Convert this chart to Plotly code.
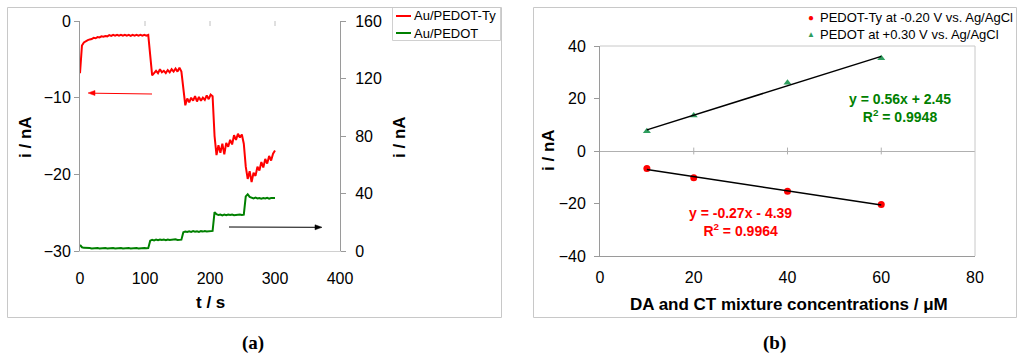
import plotly.graph_objects as go

# ---------------- Panel (a) data ----------------
t_s = [0, 3, 6, 9, 12, 15, 18, 21, 24, 27,
       30, 33, 36, 39, 42, 45, 48, 51, 54, 57,
       60, 63, 66, 69, 72, 75, 78, 81, 84, 87,
       90, 93, 96, 99, 102, 105, 108, 111, 114, 117,
       120, 123, 126, 129, 132, 135, 138, 141, 144, 147,
       150, 153, 156, 159, 162, 165, 168, 171, 174, 177,
       180, 183, 186, 189, 192, 195, 198, 201, 204, 207,
       210, 213, 216, 219, 222, 225, 228, 231, 234, 237,
       240, 243, 246, 249, 252, 255, 258, 261, 264, 267,
       270, 273, 276, 279, 282, 285, 288, 291, 294, 297,
       300]

i_pedot_ty = [-6.8, -3.2, -2.8, -2.6, -2.5, -2.4, -2.35, -2.2, -2.25, -2.1,
              -2.15, -2.0, -2.05, -1.95, -2.0, -1.85, -1.95, -1.8, -1.9, -1.8,
              -1.9, -1.8, -1.9, -1.8, -1.9, -1.8, -1.95, -1.8, -1.9, -1.8,
              -1.9, -1.8, -1.9, -1.8, -1.9, -1.8, -4.5, -7.1, -6.8, -6.5,
              -6.8, -6.3, -6.7, -6.5, -6.8, -6.4, -6.7, -6.3, -6.6, -6.2,
              -6.6, -6.1, -6.6, -9.0, -11.0, -10.1, -10.6, -10.0, -10.4, -9.8,
              -10.5, -9.9, -10.4, -10.0, -10.3, -9.7, -10.2, -9.6, -9.8, -15.0,
              -17.5, -16.2, -17.2, -16.0, -17.4, -15.9, -16.4, -15.5, -16.1, -14.9,
              -15.5, -14.7, -15.2, -14.8, -16.0, -19.0, -20.6, -19.6, -21.0, -19.8,
              -20.2, -19.0, -19.5, -18.4, -19.1, -18.0, -18.6, -17.6, -18.2, -17.3,
              -16.9]

i_pedot = [4.2, 2.6, 2.2, 2.3, 1.9, 2.1, 1.8, 2.0, 1.9, 2.1,
           1.8, 2.0, 1.9, 2.1, 1.8, 2.0, 1.9, 2.1, 1.8, 2.0,
           1.9, 2.1, 1.8, 2.0, 1.9, 2.1, 1.8, 2.0, 1.9, 2.1,
           1.8, 2.0, 1.9, 2.1, 1.9, 2.0, 7.2, 7.8, 7.4, 7.9,
           7.5, 8.0, 7.6, 7.9, 7.5, 8.0, 7.6, 7.9, 7.7, 8.1,
           7.7, 8.0, 7.9, 13.0, 13.6, 13.2, 13.7, 13.3, 13.8, 13.4,
           13.7, 13.3, 13.8, 13.5, 13.9, 13.6, 13.8, 13.7, 14.0, 27.0,
           25.6, 25.0, 25.4, 24.8, 25.3, 24.9, 25.4, 25.0, 25.3, 24.9,
           25.2, 25.0, 25.4, 25.1, 25.3, 38.0, 39.5, 37.6, 37.0, 36.6,
           37.1, 36.5, 36.9, 36.4, 36.8, 36.5, 37.0, 36.4, 36.8, 36.6,
           36.9]

series_a = ["Au/PEDOT-Ty", "Au/PEDOT"]

# ---------------- Panel (b) data ----------------
conc_uM = [10, 20, 40, 60]
pedot_ty_i = [-6.7, -10.2, -15.3, -20.4]
pedot_i = [7.5, 13.5, 26.0, 35.3]
fit_ty = (-0.27, -4.39)
fit_p = (0.56, 2.45)
series_b = ["PEDOT-Ty at -0.20 V vs. Ag/AgCl", "PEDOT at +0.30 V vs. Ag/AgCl"]

RED = "#ff0000"
GREEN = "#008000"
TRI = "#2e9e5e"
FONT = "Liberation Sans, Arial, sans-serif"

W, H = 1024, 364
def px(x):
    return x / W
def py(y):
    return 1 - y / H

fig = go.Figure()

# panel (a)
fig.add_trace(go.Scatter(x=t_s, y=i_pedot_ty, mode="lines", name=series_a[0],
                         line=dict(color=RED, width=2), xaxis="x", yaxis="y",
                         showlegend=False))
fig.add_trace(go.Scatter(x=t_s, y=i_pedot, mode="lines", name=series_a[1],
                         line=dict(color=GREEN, width=2), xaxis="x", yaxis="y2",
                         showlegend=False))

# panel (b)
fig.add_trace(go.Scatter(x=conc_uM, y=pedot_ty_i, mode="markers", name=series_b[0],
                         marker=dict(color=RED, size=7, symbol="circle"),
                         xaxis="x2", yaxis="y3", showlegend=False))
fig.add_trace(go.Scatter(x=conc_uM, y=pedot_i, mode="markers", name=series_b[1],
                         marker=dict(color=TRI, size=7, symbol="triangle-up"),
                         xaxis="x2", yaxis="y3", showlegend=False))
xf = [conc_uM[0], conc_uM[-1]]
fig.add_trace(go.Scatter(x=xf, y=[fit_ty[0] * v + fit_ty[1] for v in xf], mode="lines",
                         line=dict(color="black", width=1.5), showlegend=False,
                         xaxis="x2", yaxis="y3"))
fig.add_trace(go.Scatter(x=xf, y=[fit_p[0] * v + fit_p[1] for v in xf], mode="lines",
                         line=dict(color="black", width=1.5), showlegend=False,
                         xaxis="x2", yaxis="y3"))

tickfont = dict(family=FONT, size=16, color="black")

fig.update_layout(
    width=W, height=H, margin=dict(l=0, r=0, t=0, b=0, autoexpand=False),
    paper_bgcolor="white", plot_bgcolor="rgba(0,0,0,0)",
    font=dict(family=FONT, color="black"),
    showlegend=False,
    xaxis=dict(domain=[px(80), px(340)], range=[0, 400], dtick=100,
               showgrid=False, zeroline=False, showline=True, linecolor="#d0d0d0",
               linewidth=1, ticks="", ticklabelstandoff=13,
               tickfont=tickfont, anchor="y", automargin=False),
    yaxis=dict(domain=[py(251), py(21)], range=[-30, 0], dtick=10,
               showgrid=False, zeroline=False, showline=True, linecolor="#9a9a9a",
               linewidth=1, ticks="outside", ticklen=5, tickcolor="#9a9a9a",
               tickfont=tickfont, anchor="x", automargin=False),
    yaxis2=dict(domain=[py(251), py(21)], range=[0, 160], dtick=40,
                overlaying="y", side="right", anchor="x",
                showgrid=False, zeroline=False, showline=True, linecolor="#9a9a9a",
                linewidth=1, ticks="outside", ticklen=5, tickcolor="#9a9a9a",
                ticklabelstandoff=6,
                tickfont=tickfont, automargin=False),
    xaxis2=dict(domain=[px(600), px(975)], range=[0, 80], dtick=20,
                showgrid=False, zeroline=False, showline=True, linecolor="#9a9a9a",
                mirror=False, ticks="", ticklabelstandoff=7,
                tickfont=tickfont, anchor="y3", automargin=False),
    yaxis3=dict(domain=[py(256), py(46)], range=[-40, 40], dtick=20,
                showgrid=False, zeroline=True, zerolinecolor="#b0b0b0", zerolinewidth=1,
                showline=True, linecolor="#9a9a9a", linewidth=1,
                ticks="outside", ticklen=5, tickcolor="#9a9a9a",
                ticklabelstandoff=5,
                tickfont=tickfont, anchor="x2", automargin=False),
)

shapes = []
# panel frames
shapes.append(dict(type="rect", xref="paper", yref="paper",
                   x0=px(7.5), x1=px(501.5), y0=py(317.5), y1=py(7.5),
                   line=dict(color="#c8c8c8", width=1)))
shapes.append(dict(type="rect", xref="paper", yref="paper",
                   x0=px(533.5), x1=px(1016.5), y0=py(317.5), y1=py(7.5),
                   line=dict(color="#c8c8c8", width=1)))
# panel (a) legend box and line samples
shapes.append(dict(type="rect", xref="paper", yref="paper",
                   x0=px(392.5), x1=px(500.5), y0=py(40.5), y1=py(7.5),
                   line=dict(color="#d0d0d0", width=1), fillcolor="white", layer="below"))
for yy, col in [(16, RED), (33, GREEN)]:
    shapes.append(dict(type="line", xref="paper", yref="paper",
                       x0=px(396), x1=px(411), y0=py(yy), y1=py(yy),
                       line=dict(color=col, width=2)))
# panel (b) top and right borders of plot area
shapes.append(dict(type="line", xref="paper", yref="paper",
                   x0=px(600), x1=px(975), y0=py(46), y1=py(46),
                   line=dict(color="#c8c8c8", width=1)))
shapes.append(dict(type="line", xref="paper", yref="paper",
                   x0=px(975), x1=px(975), y0=py(256), y1=py(46),
                   line=dict(color="#c8c8c8", width=1)))
# panel (a) top tick marks
for tv in [100, 200, 300]:
    shapes.append(dict(type="line", xref="x", yref="paper", x0=tv, x1=tv,
                       y0=py(26), y1=py(21), line=dict(color="#c0c0c0", width=1)))
# panel (b) cross tick marks on the zero line
for tv in [20, 40, 60]:
    shapes.append(dict(type="line", xref="x2", yref="y3", x0=tv, x1=tv,
                       y0=-1.3, y1=1.3, line=dict(color="#b0b0b0", width=1)))
# arrows in panel (a): shafts and heads (pixel positions of the figure)
shapes.append(dict(type="line", xref="paper", yref="paper",
                   x0=px(152), x1=px(93), y0=py(94), y1=py(93.2),
                   line=dict(color=RED, width=1)))
shapes.append(dict(type="path", xref="paper", yref="paper",
                   path="M %f,%f L %f,%f L %f,%f Z" % (px(88), py(93), px(95), py(90.5),
                                                       px(95), py(95.5)),
                   fillcolor=RED, line=dict(color=RED, width=0.5)))
shapes.append(dict(type="line", xref="paper", yref="paper",
                   x0=px(229), x1=px(317), y0=py(227), y1=py(227.3),
                   line=dict(color="black", width=1)))
shapes.append(dict(type="path", xref="paper", yref="paper",
                   path="M %f,%f L %f,%f L %f,%f Z" % (px(322), py(227.3), px(315), py(224.8),
                                                       px(315), py(229.8)),
                   fillcolor="black", line=dict(color="black", width=0.5)))
fig.update_layout(shapes=shapes)


def A(text, x, y, size=17, color="black", angle=0, xa="center", family=FONT):
    return dict(text=text, x=px(x), y=py(y), xref="paper", yref="paper",
                xanchor=xa, yanchor="middle", textangle=angle, showarrow=False,
                align="center", font=dict(family=family, size=size, color=color))


SERIF = "Liberation Serif, Times New Roman, serif"
ann = [
    A("<b>i / nA</b>", 25, 137, angle=-90),
    A("<b>i / nA</b>", 399, 137, angle=-90),
    A("<b>t / s</b>", 210, 302),
    A("<b>i / nA</b>", 548, 150, angle=-90),
    A("<b>DA and CT mixture concentrations / μM</b>", 789, 304),
    A("<b>(a)</b>", 253, 343, size=19, family=SERIF),
    A("<b>(b)</b>", 774, 343, size=19, family=SERIF),
    A("<b>y = 0.56x + 2.45</b><br><b>R<sup>2</sup> = 0.9948</b>", 900, 108,
      size=14, color=GREEN),
    A("<b>y = -0.27x - 4.39</b><br><b>R<sup>2</sup> = 0.9964</b>", 740, 222,
      size=14, color=RED),
]
# legend of panel (a)
for yy, name in [(16, series_a[0]), (33, series_a[1])]:
    ann.append(A(name, 412, yy, size=13, xa="left"))
# legend of panel (b)
ann.append(A("●", 811, 17, size=10, color=RED))
ann.append(A("▲", 811, 34, size=8, color=TRI))
for yy, name in [(17, series_b[0]), (34, series_b[1])]:
    ann.append(A(name, 818, yy, size=13, xa="left"))
fig.update_layout(annotations=ann)

fig.write_html("out.html", config={"displayModeBar": False},
               post_script="document.body.style.margin='0px';"
                           "document.body.style.overflow='hidden';")
